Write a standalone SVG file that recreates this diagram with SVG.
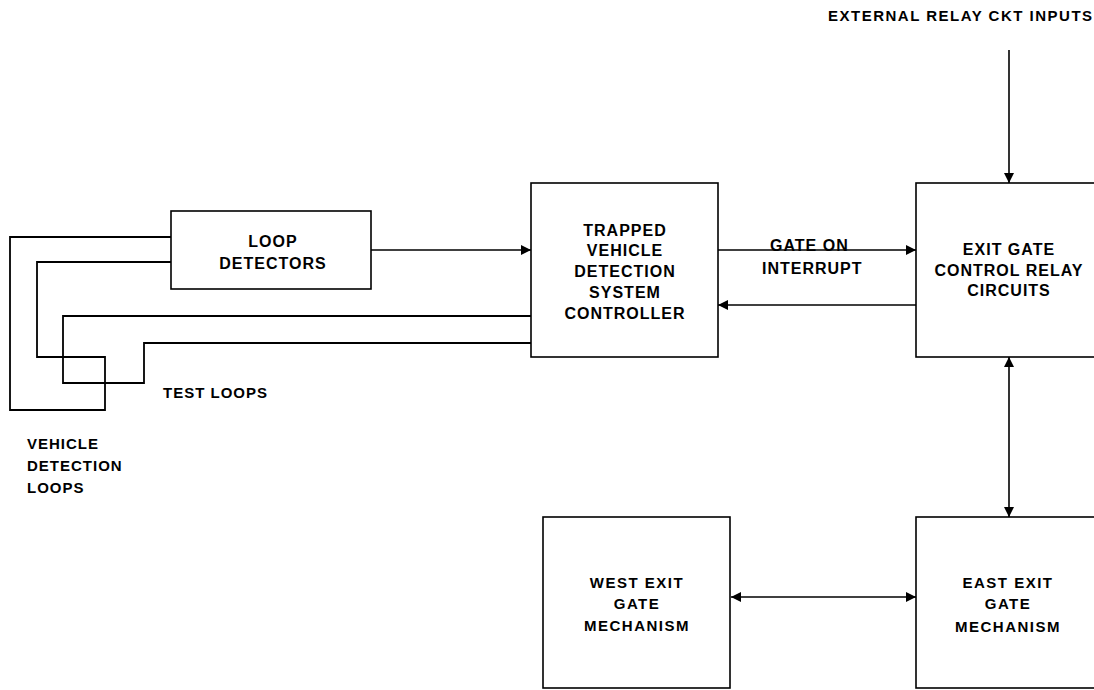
<svg xmlns="http://www.w3.org/2000/svg" width="1094" height="690" viewBox="0 0 1094 690">
  <style>
    .box { fill: #fff; stroke: #000; stroke-width: 1.6; }
    .wire { fill: none; stroke: #000; stroke-width: 1.8; }
    .conn { fill: none; stroke: #000; stroke-width: 1.6; }
    text { font-family: "Liberation Sans", Arial, sans-serif; font-weight: bold; font-size: 15px; fill: #000; letter-spacing: 1px; }
    .c { text-anchor: middle; }
    .big { font-size: 16px; }
  </style>
  <defs>
    <marker id="ah" viewBox="0 0 10 10" refX="10" refY="5" markerWidth="10" markerHeight="10" markerUnits="userSpaceOnUse" orient="auto-start-reverse">
      <path d="M0,0 L10,5 L0,10 z" fill="#000"/>
    </marker>
  </defs>

  <g id="connectors">
    <path class="conn" d="M371,250 H531" marker-end="url(#ah)"/>
    <path class="conn" d="M718,250 H916" marker-end="url(#ah)"/>
    <path class="conn" d="M916,305 H718" marker-end="url(#ah)"/>
    <path class="conn" d="M1009,50 V183" marker-end="url(#ah)"/>
    <path class="conn" d="M1009,357 V517" marker-start="url(#ah)" marker-end="url(#ah)"/>
    <path class="conn" d="M731,597 H916" marker-start="url(#ah)" marker-end="url(#ah)"/>
    <path id="vehicle-loop" class="wire" d="M171,237 H10 V410 H105 V357 H37 V262 H171"/>
    <path id="test-loop" class="wire" d="M531,316 H63 V383 H144 V343 H531"/>
  </g>

  <g id="loop-detectors">
    <rect class="box" x="171" y="211" width="200" height="78"/>
    <text class="c big" x="273" y="247">LOOP</text>
    <text class="c big" x="273" y="269">DETECTORS</text>
  </g>

  <g id="controller">
    <rect class="box" x="531" y="183" width="187" height="174"/>
    <text class="c big" x="625" y="236">TRAPPED</text>
    <text class="c big" x="625" y="256">VEHICLE</text>
    <text class="c big" x="625" y="277">DETECTION</text>
    <text class="c big" x="625" y="298">SYSTEM</text>
    <text class="c big" x="625" y="319">CONTROLLER</text>
  </g>

  <g id="exit-gate-control">
    <rect class="box" x="916" y="183" width="190" height="174"/>
    <text class="c big" x="1009" y="255">EXIT GATE</text>
    <text class="c big" x="1009" y="276">CONTROL RELAY</text>
    <text class="c big" x="1009" y="296">CIRCUITS</text>
  </g>

  <g id="west-exit-gate">
    <rect class="box" x="543" y="517" width="187" height="171"/>
    <text class="c" x="637" y="588" style="letter-spacing:1.5px">WEST EXIT</text>
    <text class="c" x="637" y="609" style="letter-spacing:1.5px">GATE</text>
    <text class="c" x="637" y="631" style="letter-spacing:1.5px">MECHANISM</text>
  </g>

  <g id="east-exit-gate">
    <rect class="box" x="916" y="517" width="190" height="171"/>
    <text class="c" x="1008" y="588" style="letter-spacing:1.5px">EAST EXIT</text>
    <text class="c" x="1008" y="609" style="letter-spacing:1.5px">GATE</text>
    <text class="c" x="1008" y="632" style="letter-spacing:1.5px">MECHANISM</text>
  </g>

  <g id="labels">
    <text x="828" y="21" style="letter-spacing:1.5px">EXTERNAL RELAY CKT INPUTS</text>
    <text class="big" x="770" y="251">GATE ON</text>
    <text class="big" x="762" y="274">INTERRUPT</text>
    <text x="163" y="398">TEST LOOPS</text>
    <text x="27" y="449">VEHICLE</text>
    <text x="27" y="471">DETECTION</text>
    <text x="27" y="493">LOOPS</text>
  </g>
</svg>
